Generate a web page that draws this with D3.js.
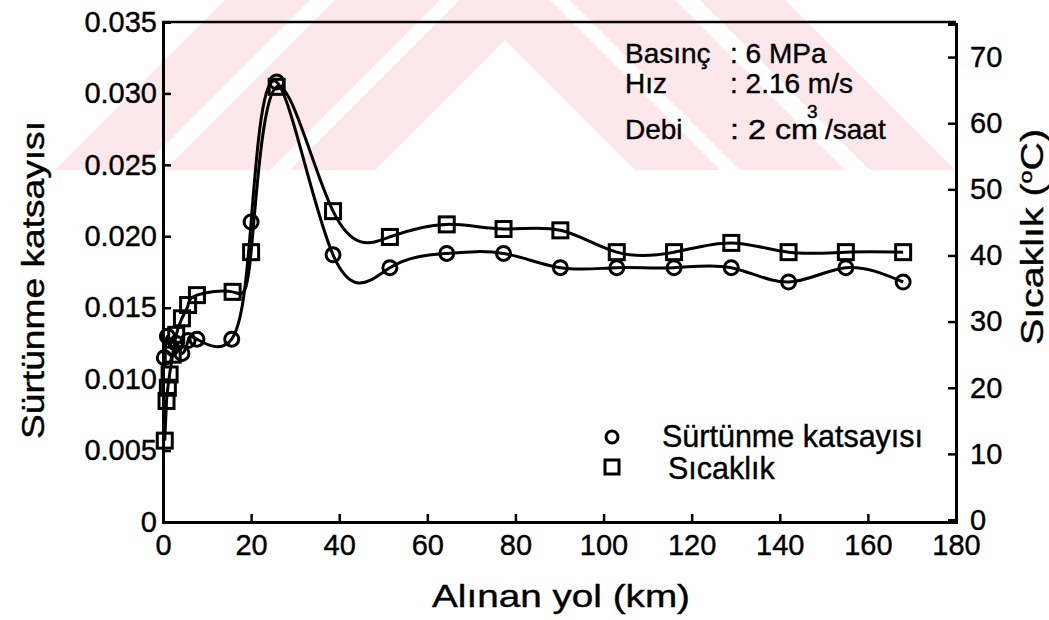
<!DOCTYPE html>
<html>
<head>
<meta charset="utf-8">
<script src="https://cdn.jsdelivr.net/npm/d3@7"></script>
<style>
body { margin: 0; background: #fff; }
text { font-family: "Liberation Sans", Arial, sans-serif; fill: #000; stroke: #000; stroke-width: 0.4px; }
</style>
</head>
<body>
<svg id="chart" width="1049" height="620"></svg>
<script>
// distance (km)
var frictionKm = [0.3, 1.0, 2.0, 3.0, 4.3, 5.7, 7.7, 15.6, 20, 25.8, 38.6, 51.5, 64.4, 77.3, 90.2, 103, 116, 129, 142, 155, 168];
var frictionVal = [0.0115, 0.013, 0.0122, 0.0125, 0.0118, 0.0127, 0.0128, 0.0128, 0.021, 0.0308, 0.0187, 0.0178, 0.0188, 0.0188, 0.0178, 0.0178, 0.0178, 0.0178, 0.0168, 0.0178, 0.0168];
var tempKm = [0.4, 0.8, 1.1, 1.5, 2.2, 3.0, 4.3, 5.7, 7.7, 15.8, 20, 25.8, 38.6, 51.5, 64.4, 77.3, 90.2, 103, 116, 129, 142, 155, 168];
var tempVal = [12, 18, 20, 22, 25, 28, 30.5, 32.5, 34, 34.5, 40.5, 65.5, 46.7, 42.8, 44.7, 44, 43.8, 40.5, 40.5, 41.9, 40.5, 40.5, 40.5];
var xTicks = [0, 20, 40, 60, 80, 100, 120, 140, 160, 180];
var yLeftTicks = [0, 0.005, 0.010, 0.015, 0.020, 0.025, 0.030, 0.035];
var yRightTicks = [0, 10, 20, 30, 40, 50, 60, 70];

var svg = d3.select("#chart");
var x = d3.scaleLinear().domain([0, 180]).range([163, 956]);
var yL = d3.scaleLinear().domain([0, 0.035]).range([522, 22]);
var yR = d3.scaleLinear().domain([0, 75]).range([520, 24]);

// faint watermark in the background (chevron bands)
svg.append("defs").append("clipPath").attr("id", "wmclip").append("rect")
    .attr("x", 0).attr("y", 0).attr("width", 1049).attr("height", 170);
var wm = svg.append("g").attr("clip-path", "url(#wmclip)");
var apex = 505;
[[-40, 45], [65, 170], [195, 280]].forEach(function (b) {
    var pts = [];
    [0, apex, 1049].forEach(function (px) { pts.push([px, Math.abs(px - apex) - b[1]]); });
    [1049, apex, 0].forEach(function (px) { pts.push([px, Math.abs(px - apex) - b[0]]); });
    wm.append("polygon").attr("points", pts.map(function (p) { return p.join(","); }).join(" "))
        .style("fill", "#fce8eb");
});

// frame
svg.append("line").attr("x1", x(0)).attr("x2", x(180)).attr("y1", yL(0.035)).attr("y2", yL(0.035))
    .attr("stroke", "#000").attr("stroke-width", 2.5);

var bottom = svg.append("g").attr("transform", "translate(0," + yL(0) + ")")
    .call(d3.axisBottom(x).tickValues(xTicks).tickSize(-8).tickPadding(12).tickFormat(d3.format("d")));
var left = svg.append("g").attr("transform", "translate(" + x(0) + ",0)")
    .call(d3.axisLeft(yL).tickValues(yLeftTicks).tickSize(-8).tickPadding(6)
        .tickFormat(function (d) { return d === 0 ? "0" : d3.format(".3f")(d); }));
var right = svg.append("g").attr("transform", "translate(" + x(180) + ",0)")
    .call(d3.axisRight(yR).tickValues(yRightTicks).tickSize(-8).tickPadding(14).tickFormat(d3.format("d")));

[bottom, left, right].forEach(function (g) {
    g.select(".domain").attr("stroke-width", 3);
    g.selectAll(".tick line").attr("stroke-width", 2.5);
    g.selectAll(".tick text").style("font-size", "29px").attr("font-family", null);
});

// curves
var lineF = d3.line().x(function (d, i) { return x(frictionKm[i]); }).y(function (d) { return yL(d); }).curve(d3.curveNatural);
var lineT = d3.line().x(function (d, i) { return x(tempKm[i]); }).y(function (d) { return yR(d); }).curve(d3.curveNatural);

svg.append("path").attr("d", lineF(frictionVal)).attr("fill", "none").attr("stroke", "#000").attr("stroke-width", 3);
svg.append("path").attr("d", lineT(tempVal)).attr("fill", "none").attr("stroke", "#000").attr("stroke-width", 3);

svg.selectAll(".fpt").data(frictionVal).enter().append("circle")
    .attr("cx", function (d, i) { return x(frictionKm[i]); }).attr("cy", function (d) { return yL(d); })
    .attr("r", 7).attr("fill", "none").attr("stroke", "#000").attr("stroke-width", 3);
svg.selectAll(".tpt").data(tempVal).enter().append("rect")
    .attr("x", function (d, i) { return x(tempKm[i]) - 7.5; }).attr("y", function (d) { return yR(d) - 7.5; })
    .attr("width", 15).attr("height", 15).attr("fill", "none").attr("stroke", "#000").attr("stroke-width", 3);

// axis titles
svg.append("text").attr("transform", "translate(44,280) rotate(-90)").attr("text-anchor", "middle")
    .attr("textLength", 318).attr("lengthAdjust", "spacingAndGlyphs")
    .style("font-size", "32px").text("Sürtünme katsayısı");
svg.append("text").attr("transform", "translate(1043,237) rotate(-90)").attr("text-anchor", "middle")
    .attr("textLength", 216).attr("lengthAdjust", "spacingAndGlyphs")
    .style("font-size", "32px").html("Sıcaklık (<tspan dy='-11' font-size='19px'>o</tspan><tspan dy='11'>C)</tspan>");
svg.append("text").attr("x", 561).attr("y", 607).attr("text-anchor", "middle")
    .attr("textLength", 258).attr("lengthAdjust", "spacingAndGlyphs")
    .style("font-size", "32px").text("Alınan yol (km)");

// conditions
var info = [["Basınç", ": 6 MPa", 63], ["Hız", ": 2.16 m/s", 93], ["Debi", ": 2 cm", 139]];
info.forEach(function (r) {
    svg.append("text").attr("x", 625).attr("y", r[2]).style("font-size", "28px").text(r[0]);
    svg.append("text").attr("x", 730).attr("y", r[2]).attr("textLength", r[0] === "Debi" ? 88 : null)
        .attr("lengthAdjust", "spacingAndGlyphs").style("font-size", "28px").text(r[1]);
});
svg.append("text").attr("x", 807).attr("y", 118).style("font-size", "19px").text("3");
svg.append("text").attr("x", 825).attr("y", 139).style("font-size", "28px").text("/saat");

// legend
svg.append("circle").attr("cx", 612).attr("cy", 437).attr("r", 6).attr("fill", "none").attr("stroke", "#000").attr("stroke-width", 3);
svg.append("text").attr("x", 662).attr("y", 447).style("font-size", "30.5px").text("Sürtünme katsayısı");
svg.append("rect").attr("x", 605).attr("y", 460).attr("width", 14).attr("height", 14).attr("fill", "none").attr("stroke", "#000").attr("stroke-width", 3);
svg.append("text").attr("x", 668).attr("y", 479).style("font-size", "30.5px").text("Sıcaklık");
</script>
</body>
</html>
